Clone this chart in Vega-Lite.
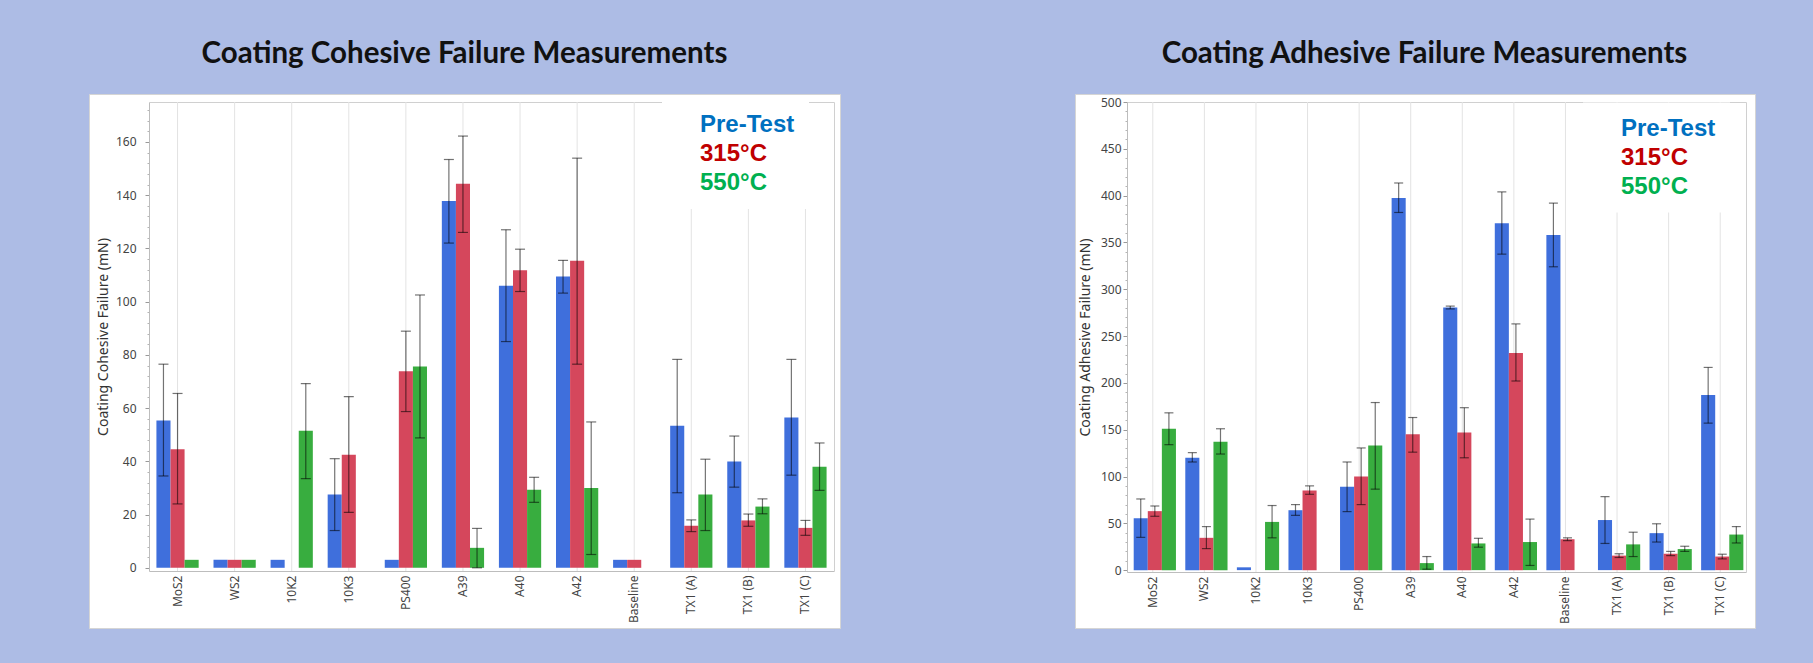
{
  "$schema": "https://vega.github.io/schema/vega-lite/v6.json",
  "background": "#adbce5",
  "padding": {"left": 88, "top": 38, "right": 61, "bottom": 37},
  "spacing": 233,
  "config": {
    "view": {"fill": "white", "stroke": "#d5d5d5"},
    "font": "Noto Sans",
    "axis": {"labelFont": "Noto Sans", "titleFont": "Noto Sans", "labelColor": "#444", "titleColor": "#333", "titleFontWeight": "normal", "labelFontSize": 11.5, "titleFontSize": 14, "domainColor": "#bdbdbd", "tickColor": "#999", "gridColor": "#e3e3e3"},
    "title": {"font": "Lato", "fontWeight": "bold", "fontSize": 29.5, "color": "#111", "baseline": "bottom", "offset": 25}
  },
  "datasets": {
    "cohesive": [
      {"material": "MoS2", "series": "Pre-Test", "value": 55.3, "lo": 34.5, "hi": 76.5},
      {"material": "MoS2", "series": "315°C", "value": 44.5, "lo": 24, "hi": 65.5},
      {"material": "MoS2", "series": "550°C", "value": 3, "lo": null, "hi": null},
      {"material": "WS2", "series": "Pre-Test", "value": 3, "lo": null, "hi": null},
      {"material": "WS2", "series": "315°C", "value": 3, "lo": null, "hi": null},
      {"material": "WS2", "series": "550°C", "value": 3, "lo": null, "hi": null},
      {"material": "10K2", "series": "Pre-Test", "value": 3, "lo": null, "hi": null},
      {"material": "10K2", "series": "550°C", "value": 51.5, "lo": 33.5, "hi": 69.2},
      {"material": "10K3", "series": "Pre-Test", "value": 27.5, "lo": 14, "hi": 41},
      {"material": "10K3", "series": "315°C", "value": 42.5, "lo": 20.8, "hi": 64.3},
      {"material": "PS400", "series": "Pre-Test", "value": 3, "lo": null, "hi": null},
      {"material": "PS400", "series": "315°C", "value": 73.8, "lo": 58.7, "hi": 88.9},
      {"material": "PS400", "series": "550°C", "value": 75.6, "lo": 48.8, "hi": 102.5},
      {"material": "A39", "series": "Pre-Test", "value": 137.8, "lo": 122, "hi": 153.4},
      {"material": "A39", "series": "315°C", "value": 144.3, "lo": 126, "hi": 162.2},
      {"material": "A39", "series": "550°C", "value": 7.5, "lo": 0, "hi": 14.8},
      {"material": "A40", "series": "Pre-Test", "value": 106, "lo": 85, "hi": 127},
      {"material": "A40", "series": "315°C", "value": 111.8, "lo": 103.8, "hi": 119.7},
      {"material": "A40", "series": "550°C", "value": 29.3, "lo": 24.6, "hi": 34},
      {"material": "A42", "series": "Pre-Test", "value": 109.4, "lo": 103.2, "hi": 115.5},
      {"material": "A42", "series": "315°C", "value": 115.4, "lo": 76.5, "hi": 153.9},
      {"material": "A42", "series": "550°C", "value": 30, "lo": 5, "hi": 54.8},
      {"material": "Baseline", "series": "Pre-Test", "value": 3, "lo": null, "hi": null},
      {"material": "Baseline", "series": "315°C", "value": 3, "lo": null, "hi": null},
      {"material": "TX1 (A)", "series": "Pre-Test", "value": 53.4, "lo": 28.2, "hi": 78.3},
      {"material": "TX1 (A)", "series": "315°C", "value": 15.8, "lo": 13.6, "hi": 18},
      {"material": "TX1 (A)", "series": "550°C", "value": 27.5, "lo": 14, "hi": 40.8},
      {"material": "TX1 (B)", "series": "Pre-Test", "value": 39.9, "lo": 30.3, "hi": 49.5},
      {"material": "TX1 (B)", "series": "315°C", "value": 17.8, "lo": 15.6, "hi": 20.2},
      {"material": "TX1 (B)", "series": "550°C", "value": 23, "lo": 20.3, "hi": 25.9},
      {"material": "TX1 (C)", "series": "Pre-Test", "value": 56.5, "lo": 34.8, "hi": 78.3},
      {"material": "TX1 (C)", "series": "315°C", "value": 15, "lo": 12.2, "hi": 17.8},
      {"material": "TX1 (C)", "series": "550°C", "value": 38, "lo": 29.1, "hi": 46.9}
    ],
    "adhesive": [
      {"material": "MoS2", "series": "Pre-Test", "value": 55.5, "lo": 35, "hi": 76},
      {"material": "MoS2", "series": "315°C", "value": 63, "lo": 57.5, "hi": 68.5},
      {"material": "MoS2", "series": "550°C", "value": 151, "lo": 134, "hi": 168},
      {"material": "WS2", "series": "Pre-Test", "value": 120, "lo": 115.5, "hi": 125.5},
      {"material": "WS2", "series": "315°C", "value": 34.5, "lo": 23, "hi": 46.5},
      {"material": "WS2", "series": "550°C", "value": 137, "lo": 124, "hi": 151},
      {"material": "10K2", "series": "Pre-Test", "value": 3, "lo": null, "hi": null},
      {"material": "10K2", "series": "550°C", "value": 51.5, "lo": 34.5, "hi": 69},
      {"material": "10K3", "series": "Pre-Test", "value": 64, "lo": 58.5, "hi": 70},
      {"material": "10K3", "series": "315°C", "value": 85, "lo": 81, "hi": 90},
      {"material": "PS400", "series": "Pre-Test", "value": 89, "lo": 62.5, "hi": 115.5},
      {"material": "PS400", "series": "315°C", "value": 100, "lo": 70, "hi": 130.5},
      {"material": "PS400", "series": "550°C", "value": 133, "lo": 86.5, "hi": 179},
      {"material": "A39", "series": "Pre-Test", "value": 397.5, "lo": 382, "hi": 413.5},
      {"material": "A39", "series": "315°C", "value": 145, "lo": 126, "hi": 163},
      {"material": "A39", "series": "550°C", "value": 7.5, "lo": 1, "hi": 14.5},
      {"material": "A40", "series": "Pre-Test", "value": 280.5, "lo": 279, "hi": 282},
      {"material": "A40", "series": "315°C", "value": 147, "lo": 120, "hi": 173.5},
      {"material": "A40", "series": "550°C", "value": 28.5, "lo": 24.5, "hi": 34},
      {"material": "A42", "series": "Pre-Test", "value": 370.5, "lo": 337.5, "hi": 404},
      {"material": "A42", "series": "315°C", "value": 232, "lo": 202, "hi": 263},
      {"material": "A42", "series": "550°C", "value": 30, "lo": 5, "hi": 54.5},
      {"material": "Baseline", "series": "Pre-Test", "value": 358, "lo": 324, "hi": 392},
      {"material": "Baseline", "series": "315°C", "value": 33, "lo": 31.5, "hi": 34.5},
      {"material": "TX1 (A)", "series": "Pre-Test", "value": 53.5, "lo": 28.5, "hi": 78.5},
      {"material": "TX1 (A)", "series": "315°C", "value": 15.5, "lo": 13.5, "hi": 17.5},
      {"material": "TX1 (A)", "series": "550°C", "value": 27.5, "lo": 14.5, "hi": 40.5},
      {"material": "TX1 (B)", "series": "Pre-Test", "value": 39.5, "lo": 30, "hi": 49.5},
      {"material": "TX1 (B)", "series": "315°C", "value": 17.5, "lo": 15.5, "hi": 20},
      {"material": "TX1 (B)", "series": "550°C", "value": 22.5, "lo": 20, "hi": 25.5},
      {"material": "TX1 (C)", "series": "Pre-Test", "value": 187, "lo": 157, "hi": 216.5},
      {"material": "TX1 (C)", "series": "315°C", "value": 14.5, "lo": 12, "hi": 17},
      {"material": "TX1 (C)", "series": "550°C", "value": 38, "lo": 29, "hi": 46.5}
    ]
  },
  "resolve": {"scale": {"color": "independent"}, "legend": {"color": "independent"}},
  "hconcat": [
    {
      "width": 751,
      "height": 534,
      "title": {"text": "Coating Cohesive Failure Measurements"},
      "data": {"name": "cohesive"},
      "resolve": {"axis": {"x": "independent", "y": "independent"}},
      "layer": [
        {
          "transform": [{"aggregate": [{"op": "count", "as": "n"}], "groupby": ["material"]}],
          "mark": {"type": "rule", "color": "#e3e3e3", "strokeWidth": 1},
          "encoding": {
            "x": {"field": "material", "type": "nominal", "sort": null, "axis": null},
            "y": {"datum": -1.2, "type": "quantitative",
              "axis": {"orient": "left", "offset": -60, "values": [4,8,12,16,24,28,32,36,44,48,52,56,64,68,72,76,84,88,92,96,104,108,112,116,124,128,132,136,144,148,152,156,164,168,172], "labels": false, "domain": false, "grid": false, "title": null, "tickSize": 2, "tickColor": "#b5b5b5"}},
            "y2": {"datum": 175}
          }
        },
        {
          "mark": {"type": "bar"},
          "encoding": {
            "x": {"field": "material", "type": "nominal", "sort": null,
              "scale": {"domain": ["MoS2","WS2","10K2","10K3","PS400","A39","A40","A42","Baseline","TX1 (A)","TX1 (B)","TX1 (C)"], "range": [60, 745], "paddingInner": 0.26, "paddingOuter": 0.13},
              "axis": {"orient": "bottom", "offset": -57, "title": null, "labelAngle": -90, "labelPadding": 4, "ticks": false, "grid": false, "labelFontSize": 12}},
            "xOffset": {"field": "series", "type": "nominal", "scale": {"domain": ["Pre-Test","315°C","550°C"], "paddingInner": 0, "paddingOuter": 0}},
            "y": {"field": "value", "type": "quantitative",
              "scale": {"domain": [-1.2, 175], "range": [477, 8], "nice": false, "zero": false},
              "axis": {"orient": "left", "values": [0,20,40,60,80,100,120,140,160], "offset": -60, "title": "Coating Cohesive Failure (mN)", "grid": false, "tickSize": 4, "labelPadding": 9, "titlePadding": 5, "labelFontSize": 12}},
            "y2": {"datum": 0},
            "color": {"field": "series", "type": "nominal",
              "scale": {"domain": ["Pre-Test","315°C","550°C"], "range": ["#3f6fdc","#d5475c","#38ad3f"]},
              "legend": {"orient": "none", "legendX": 573, "legendY": 5, "title": null, "fillColor": "white", "padding": 14, "symbolSize": 0, "symbolStrokeWidth": 0, "symbolOpacity": 0, "labelOffset": 0, "labelFont": "Liberation Sans", "labelFontWeight": "bold", "labelFontSize": 24, "labelLimit": 300, "rowPadding": 5,
                "labelColor": {"expr": "datum.label == 'Pre-Test' ? '#0070c0' : (datum.label == '315°C' ? '#c00000' : '#00b050')"}}}
          }
        },
        {
          "transform": [{"filter": "isValid(datum.lo)"}],
          "mark": {"type": "rule", "color": "black", "opacity": 0.55, "strokeWidth": 1.2},
          "encoding": {
            "x": {"field": "material", "type": "nominal", "sort": null, "axis": {"orient": "top", "offset": -8, "labels": false, "ticks": false, "grid": false, "title": null, "domainColor": "#d0d0d0"}},
            "xOffset": {"field": "series", "type": "nominal"},
            "y": {"field": "lo", "type": "quantitative", "axis": {"orient": "right", "offset": -6, "labels": false, "ticks": false, "grid": false, "title": null, "domainColor": "#d0d0d0"}},
            "y2": {"field": "hi"}
          }
        },
        {
          "transform": [{"filter": "isValid(datum.lo)"}],
          "mark": {"type": "tick", "orient": "horizontal", "size": 10, "thickness": 1.2, "color": "black", "opacity": 0.55},
          "encoding": {
            "x": {"field": "material", "type": "nominal", "sort": null, "axis": null},
            "xOffset": {"field": "series", "type": "nominal"},
            "y": {"field": "lo", "type": "quantitative", "axis": null}
          }
        },
        {
          "transform": [{"filter": "isValid(datum.hi)"}],
          "mark": {"type": "tick", "orient": "horizontal", "size": 10, "thickness": 1.2, "color": "black", "opacity": 0.55},
          "encoding": {
            "x": {"field": "material", "type": "nominal", "sort": null, "axis": null},
            "xOffset": {"field": "series", "type": "nominal"},
            "y": {"field": "hi", "type": "quantitative", "axis": null}
          }
        }
      ]
    },
    {
      "width": 680,
      "height": 534,
      "title": {"text": "Coating Adhesive Failure Measurements", "dx": 9.5},
      "data": {"name": "adhesive"},
      "resolve": {"axis": {"x": "independent", "y": "independent"}},
      "layer": [
        {
          "transform": [{"aggregate": [{"op": "count", "as": "n"}], "groupby": ["material"]}],
          "mark": {"type": "rule", "color": "#e3e3e3", "strokeWidth": 1},
          "encoding": {
            "x": {"field": "material", "type": "nominal", "sort": null, "axis": null},
            "y": {"datum": -2, "type": "quantitative",
              "axis": {"orient": "left", "offset": -52, "values": [10,20,30,40,60,70,80,90,110,120,130,140,160,170,180,190,210,220,230,240,260,270,280,290,310,320,330,340,360,370,380,390,410,420,430,440,460,470,480,490], "labels": false, "domain": false, "grid": false, "title": null, "tickSize": 2, "tickColor": "#b5b5b5"}},
            "y2": {"datum": 500}
          }
        },
        {
          "mark": {"type": "bar"},
          "encoding": {
            "x": {"field": "material", "type": "nominal", "sort": null,
              "scale": {"domain": ["MoS2","WS2","10K2","10K3","PS400","A39","A40","A42","Baseline","TX1 (A)","TX1 (B)","TX1 (C)"], "range": [52, 671], "paddingInner": 0.26, "paddingOuter": 0.13},
              "axis": {"orient": "bottom", "offset": -56, "title": null, "labelAngle": -90, "labelPadding": 4, "ticks": false, "grid": false, "labelFontSize": 12}},
            "xOffset": {"field": "series", "type": "nominal", "scale": {"domain": ["Pre-Test","315°C","550°C"], "paddingInner": 0, "paddingOuter": 0}},
            "y": {"field": "value", "type": "quantitative",
              "scale": {"domain": [-2, 500], "range": [478, 8], "nice": false, "zero": false},
              "axis": {"orient": "left", "values": [0,50,100,150,200,250,300,350,400,450,500], "offset": -52, "title": "Coating Adhesive Failure (mN)", "grid": false, "tickSize": 4, "labelPadding": 2, "titlePadding": 8, "labelFontSize": 12}},
            "y2": {"datum": 0},
            "color": {"field": "series", "type": "nominal",
              "scale": {"domain": ["Pre-Test","315°C","550°C"], "range": ["#3f6fdc","#d5475c","#38ad3f"]},
              "legend": {"orient": "none", "legendX": 508, "legendY": 8.5, "title": null, "fillColor": "white", "padding": 14, "symbolSize": 0, "symbolStrokeWidth": 0, "symbolOpacity": 0, "labelOffset": 0, "labelFont": "Liberation Sans", "labelFontWeight": "bold", "labelFontSize": 24, "labelLimit": 300, "rowPadding": 5,
                "labelColor": {"expr": "datum.label == 'Pre-Test' ? '#0070c0' : (datum.label == '315°C' ? '#c00000' : '#00b050')"}}}
          }
        },
        {
          "transform": [{"filter": "isValid(datum.lo)"}],
          "mark": {"type": "rule", "color": "black", "opacity": 0.55, "strokeWidth": 1.2},
          "encoding": {
            "x": {"field": "material", "type": "nominal", "sort": null, "axis": {"orient": "top", "offset": -8, "labels": false, "ticks": false, "grid": false, "title": null, "domainColor": "#d0d0d0"}},
            "xOffset": {"field": "series", "type": "nominal"},
            "y": {"field": "lo", "type": "quantitative", "axis": {"orient": "right", "offset": -9, "labels": false, "ticks": false, "grid": false, "title": null, "domainColor": "#d0d0d0"}},
            "y2": {"field": "hi"}
          }
        },
        {
          "transform": [{"filter": "isValid(datum.lo)"}],
          "mark": {"type": "tick", "orient": "horizontal", "size": 9, "thickness": 1.2, "color": "black", "opacity": 0.55},
          "encoding": {
            "x": {"field": "material", "type": "nominal", "sort": null, "axis": null},
            "xOffset": {"field": "series", "type": "nominal"},
            "y": {"field": "lo", "type": "quantitative", "axis": null}
          }
        },
        {
          "transform": [{"filter": "isValid(datum.hi)"}],
          "mark": {"type": "tick", "orient": "horizontal", "size": 9, "thickness": 1.2, "color": "black", "opacity": 0.55},
          "encoding": {
            "x": {"field": "material", "type": "nominal", "sort": null, "axis": null},
            "xOffset": {"field": "series", "type": "nominal"},
            "y": {"field": "hi", "type": "quantitative", "axis": null}
          }
        }
      ]
    }
  ]
}
